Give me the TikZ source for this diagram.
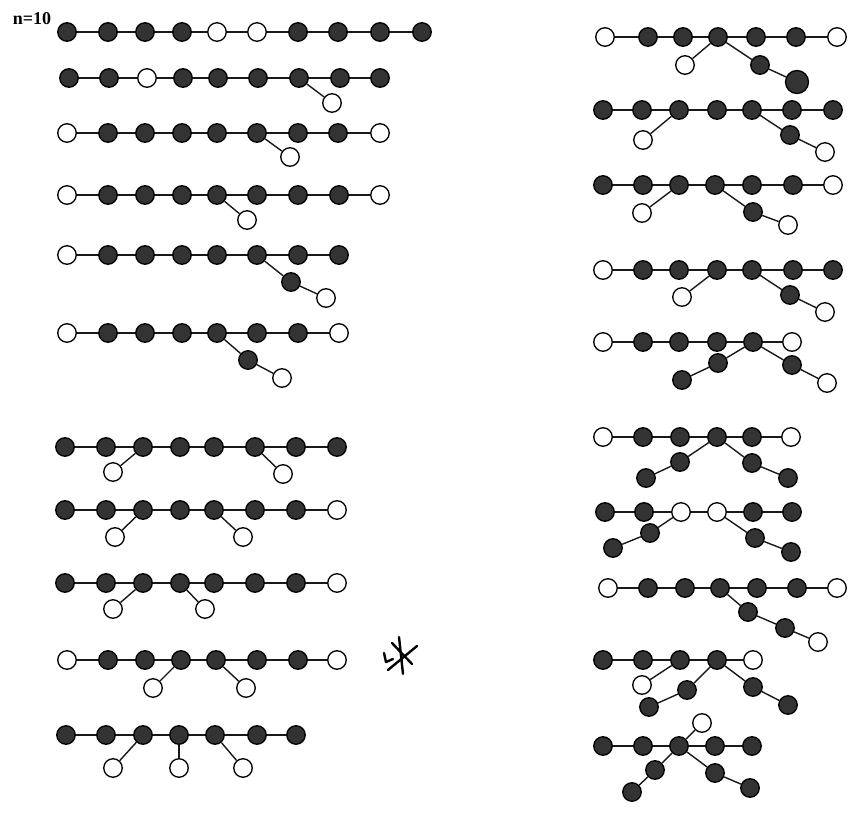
\documentclass[tikz,border=0pt]{standalone}
\usepackage{fontspec}
\setmainfont{Liberation Serif}
\colorlet{F}{black!80}
\colorlet{O}{white}
\tikzset{
  nd/.style={circle, draw=black, line width=1.3pt, minimum size=18.5pt, inner sep=0pt},
  bond/.style={line width=1.4pt, draw=black!90},
}
\newcommand\mkchain[3]{%
  \foreach \xx/\cc [count=\ii] in {#3} {%
    \node[nd,fill=\cc] (#1-\ii) at (\xx,#2) {};%
    \ifnum\ii>1 \pgfmathtruncatemacro\jj{\ii-1}\draw[bond] (#1-\jj) -- (#1-\ii);\fi
  }%
}
\newcommand\mkbranch[4]{% from, name, colour, position
  \node[nd,fill=#3] (#2) at (#4) {};
  \draw[bond] (#1) -- (#2);
}
\begin{document}
\begin{tikzpicture}[x=1pt,y=-1pt]
\useasboundingbox[fill=white] (0,0) rectangle (849,813);
\node[font=\fontsize{18}{20}\selectfont\bfseries, inner sep=0pt] (lbl) at (32,19) {n=10};
% ---------------- left column ----------------
\mkchain{L1}{32}{67/F,108/F,145/F,182/F,217/O,257/O,298/F,338/F,380/F,422/F}
\mkchain{L2}{78}{69/F,109/F,147/O,183/F,218/F,258/F,299/F,340/F,380/F}
\mkbranch{L2-7}{L2a}{O}{332,103}
\mkchain{L3}{133}{67/O,108/F,145/F,182/F,217/F,257/F,298/F,338/F,380/O}
\mkbranch{L3-6}{L3a}{O}{290,157}
\mkchain{L4}{195}{67/O,108/F,145/F,182/F,217/F,257/F,298/F,339/F,380/O}
\mkbranch{L4-5}{L4a}{O}{247,220}
\mkchain{L5}{255}{67/O,108/F,145/F,182/F,217/F,257/F,298/F,339/F}
\mkbranch{L5-6}{L5a}{F}{291,282}
\mkbranch{L5a}{L5b}{O}{326,298}
\mkchain{L6}{333}{67/O,108/F,145/F,182/F,217/F,257/F,298/F,339/O}
\mkbranch{L6-5}{L6a}{F}{248,360}
\mkbranch{L6a}{L6b}{O}{282,378}
\mkchain{L7}{447}{65/F,106/F,143/F,180/F,214/F,255/F,296/F,337/F}
\mkbranch{L7-3}{L7a}{O}{113,472}
\mkbranch{L7-6}{L7b}{O}{283,474}
\mkchain{L8}{510}{65/F,106/F,143/F,180/F,214/F,255/F,296/F,337/O}
\mkbranch{L8-3}{L8a}{O}{115,537}
\mkbranch{L8-5}{L8b}{O}{243,537}
\mkchain{L9}{583}{65/F,106/F,143/F,180/F,214/F,255/F,296/F,337/O}
\mkbranch{L9-3}{L9a}{O}{113,609}
\mkbranch{L9-4}{L9b}{O}{205,609}
\mkchain{L10}{660}{67/O,108/F,145/F,181/F,216/F,257/F,298/F,337/O}
\mkbranch{L10-4}{L10a}{O}{153,688}
\mkbranch{L10-5}{L10b}{O}{246,688}
\mkchain{L11}{735}{66/F,106/F,143/F,179/F,215/F,257/F,296/F}
\mkbranch{L11-3}{L11a}{O}{113,768}
\mkbranch{L11-4}{L11b}{O}{179,768}
\mkbranch{L11-5}{L11c}{O}{243,768}
% handwritten mark
\begin{scope}[line width=2.4pt, line cap=round, line join=round]
  \draw (399,637) -- (403,674);
  \draw (388,670) -- (417,646);
  \draw (392,643) -- (412,664);
  \draw (384,653) -- (386,662) -- (393,659);
\end{scope}
% ---------------- right column ----------------
\mkchain{R1}{37}{605/O,648/F,683/F,718/F,756/F,796/F,837/O}
\mkbranch{R1-4}{R1a}{O}{685,65}
\mkbranch{R1-4}{R1b}{F}{760,65}
\node[nd, fill=F, minimum size=23pt] (R1c) at (797,82) {};
\draw[bond] (R1b) -- (R1c);
\mkchain{R2}{110}{603/F,642/F,679/F,717/F,752/F,792/F,833/F}
\mkbranch{R2-3}{R2a}{O}{643,140}
\mkbranch{R2-5}{R2b}{F}{790,135}
\mkbranch{R2b}{R2c}{O}{825,152}
\mkchain{R3}{185}{603/F,643/F,679/F,715/F,752/F,793/F,833/O}
\mkbranch{R3-3}{R3a}{O}{642,213}
\mkbranch{R3-4}{R3b}{F}{753,212}
\mkbranch{R3b}{R3c}{O}{788,225}
\mkchain{R4}{270}{603/O,643/F,679/F,717/F,752/F,793/F,833/F}
\mkbranch{R4-4}{R4a}{O}{682,297}
\mkbranch{R4-5}{R4b}{F}{790,295}
\mkbranch{R4b}{R4c}{O}{825,312}
\mkchain{R5}{342}{603/O,643/F,679/F,717/F,753/F,792/O}
\mkbranch{R5-5}{R5a}{F}{718,363}
\mkbranch{R5a}{R5b}{F}{682,380}
\mkbranch{R5-5}{R5c}{F}{792,365}
\mkbranch{R5c}{R5d}{O}{827,383}
\mkchain{R6}{437}{603/O,643/F,680/F,717/F,752/F,791/O}
\mkbranch{R6-4}{R6a}{F}{680,462}
\mkbranch{R6a}{R6b}{F}{646,478}
\mkbranch{R6-4}{R6c}{F}{752,463}
\mkbranch{R6c}{R6d}{F}{788,478}
\mkchain{R7}{512}{605/F,644/F,681/O,717/O,753/F,792/F}
\mkbranch{R7-3}{R7a}{F}{650,533}
\mkbranch{R7a}{R7b}{F}{613,548}
\mkbranch{R7-4}{R7c}{F}{755,538}
\mkbranch{R7c}{R7d}{F}{791,552}
\mkchain{R8}{588}{608/O,648/F,685/F,720/F,757/F,797/F,837/O}
\mkbranch{R8-4}{R8a}{F}{748,612}
\mkbranch{R8a}{R8b}{F}{785,628}
\mkbranch{R8b}{R8c}{O}{818,642}
\mkchain{R9}{660}{603/F,643/F,680/F,717/F,753/O}
\mkbranch{R9-3}{R9a}{O}{642,685}
\mkbranch{R9-4}{R9b}{F}{687,690}
\mkbranch{R9b}{R9c}{F}{649,707}
\mkbranch{R9-4}{R9d}{F}{753,687}
\mkbranch{R9d}{R9e}{F}{788,705}
\mkchain{R10}{746}{603/F,643/F,679/F,715/F,752/F}
\mkbranch{R10-3}{R10a}{O}{702,723}
\mkbranch{R10-3}{R10b}{F}{655,770}
\mkbranch{R10b}{R10c}{F}{632,792}
\mkbranch{R10-3}{R10d}{F}{715,773}
\mkbranch{R10d}{R10e}{F}{750,788}
\end{tikzpicture}
\end{document}
